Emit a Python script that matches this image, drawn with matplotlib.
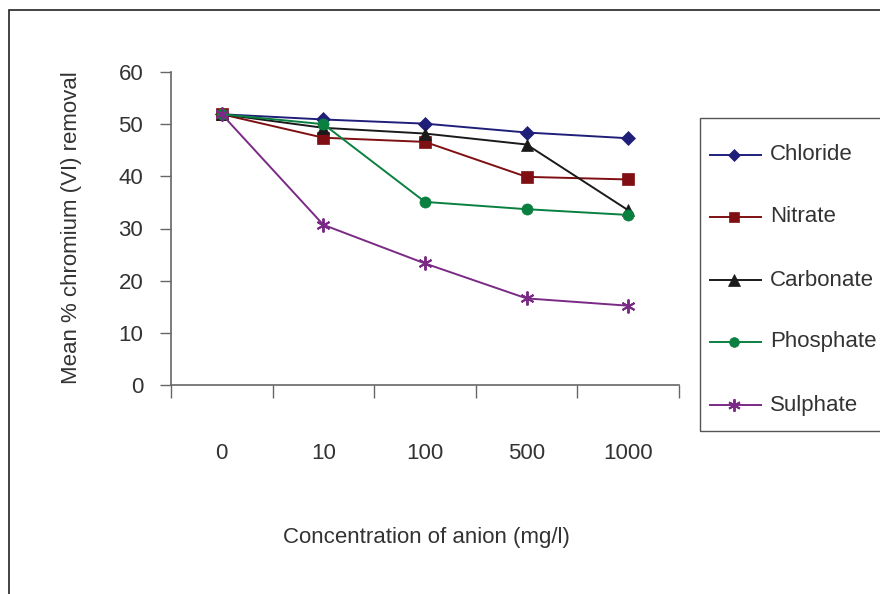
import matplotlib
matplotlib.use("Agg")
import matplotlib.pyplot as plt
from matplotlib.lines import Line2D
from matplotlib.patches import Rectangle

plt.rcParams["font.family"] = ["Liberation Sans", "DejaVu Sans"]

# Data
concentrations = ["0", "10", "100", "500", "1000"]
chloride = [51.9, 50.9, 50.1, 48.4, 47.3]
nitrate = [51.9, 47.4, 46.6, 39.9, 39.4]
carbonate = [51.9, 49.3, 48.2, 46.1, 33.5]
phosphate = [51.9, 50.0, 35.1, 33.7, 32.6]
sulphate = [51.9, 30.7, 23.3, 16.6, 15.2]

series_names = ["Chloride", "Nitrate", "Carbonate", "Phosphate", "Sulphate"]
series_values = [chloride, nitrate, carbonate, phosphate, sulphate]
colors = ["#1f1f7a", "#7f0f12", "#1a1a1a", "#0a8040", "#7a2a85"]
markers = ["D", "s", "^", "o", (6, 2, 0)]
msizes = [7, 8, 9, 8, 10]

text_color = "#333333"
axis_color = "#666666"
FS = 16

W, H = 880, 594
fig = plt.figure(figsize=(W / 100, H / 100), dpi=100)

# Outer chart border
fig.patches.append(Rectangle((9 / W, -0.1), 1.2, 1 - 10 / H + 0.1,
                             transform=fig.transFigure, fill=False,
                             edgecolor="#222222", linewidth=1.2))

ax = fig.add_axes([171 / W, (H - 385) / H, (679 - 171) / W, (385 - 72) / H])


def mew(m):
    return 1.4 if isinstance(m, tuple) else 0.5


xs = list(range(len(concentrations)))
for name, vals, c, m, ms in zip(series_names, series_values, colors, markers, msizes):
    ax.plot(xs, vals, color=c, marker=m, markersize=ms, linewidth=1.4,
            markeredgewidth=mew(m), label=name)

ax.set_xlim(-0.5, len(concentrations) - 0.5)
ax.set_ylim(0, 60)
ax.set_yticks(range(0, 61, 10))
ax.tick_params(axis="y", length=8, width=1, color=axis_color, labelsize=FS,
               labelcolor=text_color, pad=12)

# Category boundary ticks (minor) and centred labels (major)
ax.set_xticks([i - 0.5 for i in range(len(concentrations) + 1)], minor=True)
ax.set_xticks(xs)
ax.set_xticklabels(concentrations)
ax.tick_params(axis="x", which="major", length=0, labelsize=FS,
               labelcolor=text_color, pad=42)
ax.tick_params(axis="x", which="minor", length=9, width=1, color=axis_color,
               direction="out")

for side in ["top", "right"]:
    ax.spines[side].set_visible(False)
for side in ["left", "bottom"]:
    ax.spines[side].set_color(axis_color)
    ax.spines[side].set_linewidth(1.2)

fig.text(72 / W, 1 - 228 / H, "Mean % chromium (VI) removal", fontsize=FS,
         color=text_color, ha="center", va="center", rotation=90)
fig.text(426 / W, 1 - 537 / H, "Concentration of anion (mg/l)", fontsize=FS,
         color=text_color, ha="center", va="center")

# Legend box
fig.patches.append(Rectangle((700 / W, 1 - 431 / H), 1.0, (431 - 118) / H,
                             transform=fig.transFigure, fill=False,
                             edgecolor="#555555", linewidth=1.0))
rows = [155, 217, 280, 342, 405]
for name, c, m, ms, y in zip(series_names, colors, markers, msizes, rows):
    yy = 1 - y / H
    fig.add_artist(Line2D([710 / W, 761 / W], [yy, yy], transform=fig.transFigure,
                          color=c, linewidth=1.4))
    fig.add_artist(Line2D([734 / W], [yy], transform=fig.transFigure, color=c,
                          marker=m, markersize=ms - 1, markeredgewidth=mew(m)))
    fig.text(770 / W, yy, name, fontsize=FS, color=text_color, ha="left",
             va="center")

fig.savefig("out.png", dpi=100)
